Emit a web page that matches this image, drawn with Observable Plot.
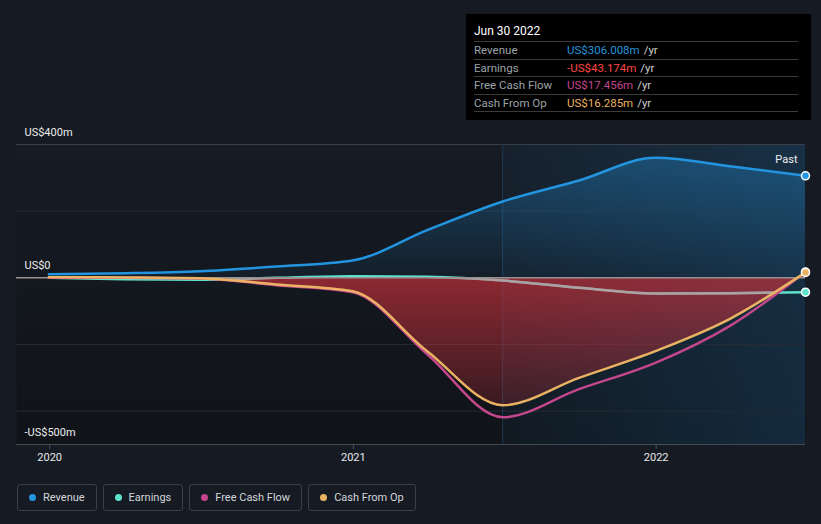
<!DOCTYPE html>
<html><head><meta charset="utf-8">
<script src="https://cdn.jsdelivr.net/npm/d3@7"></script>
<script src="https://cdn.jsdelivr.net/npm/@observablehq/plot@0.6"></script>
<style>
html,body{margin:0;padding:0}
body{background:#151a23;font-family:Roboto,"Noto Sans",sans-serif;width:821px;height:524px;overflow:hidden;position:relative}
#chart{position:absolute;left:0;top:0}
#tip{position:absolute;left:466px;top:14px;width:345px;height:106px;background:#000;font-size:11.5px}
#tip .hd{position:absolute;left:8px;top:10px;line-height:14px;color:#fff;font-size:12px}
#tip .rows{position:absolute;left:8px;top:27px;width:324px}
#tip .row{height:16.5px;border-top:1px solid #3a3a3a;display:flex;align-items:center;line-height:16px}
#tip .row.last{height:0}
#tip .lab{width:93px;color:#9ea3a8}
#tip .yr{color:#cfcfcf;margin-left:4px}
#legend{position:absolute;left:17px;top:484px;display:flex;gap:6px}
.item{box-sizing:border-box;border:1px solid #3a404a;border-radius:3px;height:27px;padding:0 11px 0 11px;display:flex;align-items:center;color:#d4d6d9;font-size:11px}
.dot{width:7px;height:7px;border-radius:50%;margin-right:7px}
</style>
</head><body>
<div id="chart"></div>
<div id="tip"></div>
<div id="legend"></div>
<script>
// ---- data (quarterly, trailing twelve months, US$ m) ----
const dates = ["2019-12-31","2020-03-31","2020-06-30","2020-09-30","2020-12-31","2021-03-31","2021-06-30","2021-09-30","2021-12-31","2022-03-31","2022-06-30"];
const revenue = [11, 14, 20, 34, 52, 143, 229, 292, 360, 335, 306.008];
const earnings = [0, -4, -6, 0, 5, 3, -8, -30, -47, -46, -43.174];
const freeCashFlow = [0, 0, -2, -22, -43, -229, -418, -334, -255, -144, 17.456];
const cashFromOp = [2, 1, -1, -20, -40, -220, -382, -300, -220, -123, 16.285];
const seriesNames = ["Revenue", "Earnings", "Free Cash Flow", "Cash From Op"];
const seriesColors = ["#2394df", "#5fe3cc", "#c4468c", "#eab263"];
const yLabelValues = [400, 0, -500];
const yLabelTexts = ["US$400m", "US$0", "-US$500m"];
const gridValues = [200, -200, -400];
const yearTicks = ["2020-01-01", "2021-01-01", "2022-01-01"];
const tipDate = "Jun 30 2022";

const data = dates.map((d, i) => ({date: new Date(d), revenue: revenue[i], earnings: earnings[i], fcf: freeCashFlow[i], cfo: cashFromOp[i]}));
const last = data[data.length - 1];
const pastStart = data[data.length - 5].date;
const xDomain = [new Date("2019-11-22"), last.date];
const yDomain = [-500, 400];
const yLabels = yLabelValues.map((v, i) => ({v, t: yLabelTexts[i]}));
const ticks = yearTicks.map(d => new Date(d));
const curve = "monotone-x";
const [cRev, cEarn, cFcf, cCfo] = seriesColors;

const chart = Plot.plot({
  width: 821, height: 470,
  marginTop: 144, marginBottom: 26, marginLeft: 16, marginRight: 16,
  x: {type: "utc", domain: xDomain, axis: null},
  y: {domain: yDomain, axis: null},
  style: {background: "transparent", color: "#e6e6e6", fontFamily: "Roboto, sans-serif", fontSize: "11px", overflow: "visible"},
  marks: [
    Plot.frame({fill: "url(#frameGrad)", stroke: null}),
    Plot.rect([{x1: pastStart, x2: last.date}], {x1: "x1", x2: "x2", fill: "url(#pastGrad)"}),
    Plot.ruleY(gridValues, {stroke: "#252b34", strokeWidth: 1}),
    Plot.ruleY([yDomain[1]], {stroke: "#3a4049", strokeWidth: 1}),
    Plot.ruleX([pastStart], {stroke: "#1b3852", strokeWidth: 1}),
    Plot.areaY(data, {x: "date", y: "revenue", fill: "url(#revGrad)", curve}),
    Plot.lineY(data, {x: "date", y: "earnings", stroke: cEarn, strokeWidth: 2.5, curve}),
    Plot.areaY(data, {x: "date", y: "cfo", fill: "url(#redGrad)", curve, ariaDescription: "cfo-area"}),
    Plot.lineY(data, {x: "date", y: "earnings", stroke: "#a8a3a4", strokeWidth: 2.5, curve, ariaDescription: "earnings-grey"}),
    Plot.ruleY([0], {stroke: "#979191", strokeWidth: 1.5}),
    Plot.lineY(data, {x: "date", y: "fcf", stroke: cFcf, strokeWidth: 2.5, curve}),
    Plot.lineY(data, {x: "date", y: "cfo", stroke: cCfo, strokeWidth: 2.5, curve}),
    Plot.lineY(data, {x: "date", y: "revenue", stroke: cRev, strokeWidth: 2.5, curve}),
    Plot.ruleY([yDomain[0]], {stroke: "#454b55", strokeWidth: 1}),
    Plot.axisX(ticks, {tickSize: 5, tickPadding: 4, stroke: "#4a505a", fill: "#e8e8e8", tickFormat: "%Y", fontSize: 11, label: null}),
    Plot.dot([last], {x: "date", y: "fcf", r: 4, fill: cFcf, stroke: "#fff", strokeWidth: 1.5}),
    Plot.dot([last], {x: "date", y: "earnings", r: 4, fill: cEarn, stroke: "#fff", strokeWidth: 1.5}),
    Plot.dot([last], {x: "date", y: "cfo", r: 4, fill: cCfo, stroke: "#fff", strokeWidth: 1.5}),
    Plot.dot([last], {x: "date", y: "revenue", r: 4, fill: cRev, stroke: "#fff", strokeWidth: 1.5}),
    Plot.text(["Past"], {frameAnchor: "top-right", dx: -8, dy: 11, textAnchor: "end", fill: "#f0f0f0", fontSize: 11}),
    Plot.text(yLabels, {y: "v", text: "t", frameAnchor: "left", textAnchor: "start", dx: 8, dy: -12, fill: "#ececec", fontSize: 11})
  ]
});

const ns = "http://www.w3.org/2000/svg";
const defs = document.createElementNS(ns, "defs");
defs.innerHTML = `
<linearGradient id="frameGrad" x1="0" y1="0" x2="0" y2="1">
  <stop offset="0" stop-color="#161b24"/><stop offset="1" stop-color="#101318"/></linearGradient>
<linearGradient id="pastGrad" x1="0" y1="0" x2="1" y2="0">
  <stop offset="0" stop-color="#2394df" stop-opacity="0.05"/><stop offset="1" stop-color="#2394df" stop-opacity="0.18"/></linearGradient>
<linearGradient id="revGrad" x1="0" y1="0" x2="0" y2="1">
  <stop offset="0" stop-color="#2394df" stop-opacity="0.34"/><stop offset="1" stop-color="#2394df" stop-opacity="0.05"/></linearGradient>
<linearGradient id="redGrad" x1="0" y1="0" x2="0" y2="1">
  <stop offset="0" stop-color="#dc333d" stop-opacity="0.62"/><stop offset="1" stop-color="#dc333d" stop-opacity="0.2"/></linearGradient>`;
chart.insertBefore(defs, chart.firstChild);
const areaPath = chart.querySelector('g[aria-description="cfo-area"] path');
if (areaPath) {
  const clip = document.createElementNS(ns, "clipPath");
  clip.setAttribute("id", "cfoClip");
  const p = document.createElementNS(ns, "path");
  p.setAttribute("d", areaPath.getAttribute("d"));
  clip.appendChild(p);
  defs.appendChild(clip);
  const g = chart.querySelector('g[aria-description="earnings-grey"]');
  if (g) g.setAttribute("clip-path", "url(#cfoClip)");
}
document.getElementById("chart").appendChild(chart);

// tooltip
const fmt = v => (v < 0 ? "-" : "") + "US$" + Math.abs(v).toFixed(3) + "m";
const tipVals = [last.revenue, last.earnings, last.fcf, last.cfo];
let html = `<div class="hd">${tipDate}</div><div class="rows">`;
seriesNames.forEach((n, i) => {
  const col = tipVals[i] < 0 ? "#ff4545" : seriesColors[i];
  html += `<div class="row"><span class="lab">${n}</span><span style="color:${col}">${fmt(tipVals[i])}</span><span class="yr">/yr</span></div>`;
});
html += `<div class="row last"></div></div>`;
document.getElementById("tip").innerHTML = html;

// legend
document.getElementById("legend").innerHTML = seriesNames.map((n, i) =>
  `<div class="item"><span class="dot" style="background:${seriesColors[i]}"></span>${n}</div>`).join("");
</script>
</body></html>
